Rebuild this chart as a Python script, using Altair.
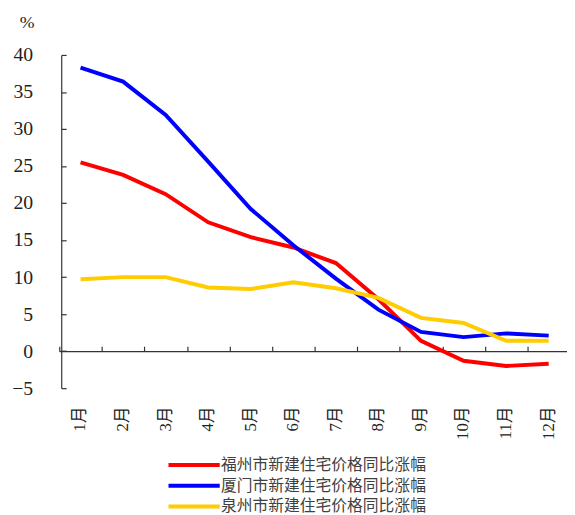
import altair as alt
import pandas as pd

months = ["1月", "2月", "3月", "4月", "5月", "6月", "7月", "8月", "9月", "10月", "11月", "12月"]
series_names = ["福州市新建住宅价格同比涨幅", "厦门市新建住宅价格同比涨幅", "泉州市新建住宅价格同比涨幅"]
fuzhou = [25.5, 23.8, 21.2, 17.4, 15.4, 14.0, 11.9, 7.0, 1.4, -1.3, -2.0, -1.7]
xiamen = [38.3, 36.4, 31.9, 25.6, 19.2, 14.3, 9.8, 5.6, 2.6, 1.9, 2.4, 2.1]
quanzhou = [9.7, 10.0, 10.0, 8.6, 8.4, 9.3, 8.5, 7.2, 4.5, 3.8, 1.4, 1.4]
colors = ["#FF0000", "#0000FF", "#FFCC00"]
y_ticks = [-5, 0, 5, 10, 15, 20, 25, 30, 35, 40]

rows = []
for name, vals in zip(series_names, [fuzhou, xiamen, quanzhou]):
    for m, v in zip(months, vals):
        rows.append({"month": m, "value": v, "series": name})
df = pd.DataFrame(rows)

W = 513
H = 338
zero_px = H * 40 / 45

xscale = alt.Scale(domain=months, range=[-2, W + 3], paddingInner=0, paddingOuter=0)
yscale = alt.Scale(domain=[-5, 40], nice=False, zero=False)

serif = "Liberation Serif, Noto Sans CJK SC"

lines = alt.Chart(df).mark_line(strokeWidth=4).encode(
    x=alt.X("month:N", sort=months, scale=xscale,
            axis=alt.Axis(orient="bottom", title=None, domain=False, ticks=False,
                          labelAngle=270, labelAlign="right", labelBaseline="middle",
                          labelPadding=18, labelFont=serif, labelFontSize=17,
                          labelColor="#222222")),
    y=alt.Y("value:Q", scale=yscale,
            axis=alt.Axis(orient="left", values=y_ticks, grid=False, domain=False,
                          ticks=False, tickSize=0, labelPadding=29, labelFont=serif,
                          labelFontSize=20, labelColor="#222222",
                          title="%", titleAngle=0, titleX=-35, titleY=-33,
                          titleAlign="center", titleBaseline="middle",
                          titleFont=serif, titleFontSize=18, titleFontWeight="normal",
                          titleColor="#222222")),
    color=alt.Color("series:N", sort=series_names,
                    scale=alt.Scale(domain=series_names, range=colors),
                    legend=alt.Legend(orient="none", legendX=106, legendY=408,
                                      title=None, symbolType="M-1,0H9",
                                      symbolStrokeWidth=4, symbolSize=108,
                                      labelFont="Noto Sans CJK SC", labelFontSize=16,
                                      labelColor="#404040", rowPadding=5,
                                      labelOffset=40, labelLimit=400)),
)

frame = alt.Chart(df).mark_line(opacity=0).encode(
    x=alt.X("month:N", sort=months, scale=xscale,
            axis=alt.Axis(orient="top", offset=-zero_px, title=None, labels=False,
                          ticks=True, tickSize=5, tickBand="extent", domain=True,
                          domainColor="#333333", tickColor="#333333",
                          domainWidth=1.2, tickWidth=1.2)),
    y=alt.Y("value:Q", scale=yscale,
            axis=alt.Axis(orient="right", offset=-W, values=y_ticks, grid=False,
                          labels=False, title=None, ticks=True, tickSize=5,
                          domain=True, domainColor="#333333", tickColor="#333333",
                          domainWidth=1.2, tickWidth=1.2)),
    detail="series:N",
)

chart = alt.layer(lines, frame).resolve_axis(x="independent", y="independent").properties(
    width=W, height=H,
    autosize=alt.AutoSizeParams(type="none"),
    padding={"left": 54, "top": 44, "right": 0, "bottom": 125},
    background="white",
).configure_view(stroke=None)

chart.save("out.html", embed_options={"renderer": "svg", "actions": False})
